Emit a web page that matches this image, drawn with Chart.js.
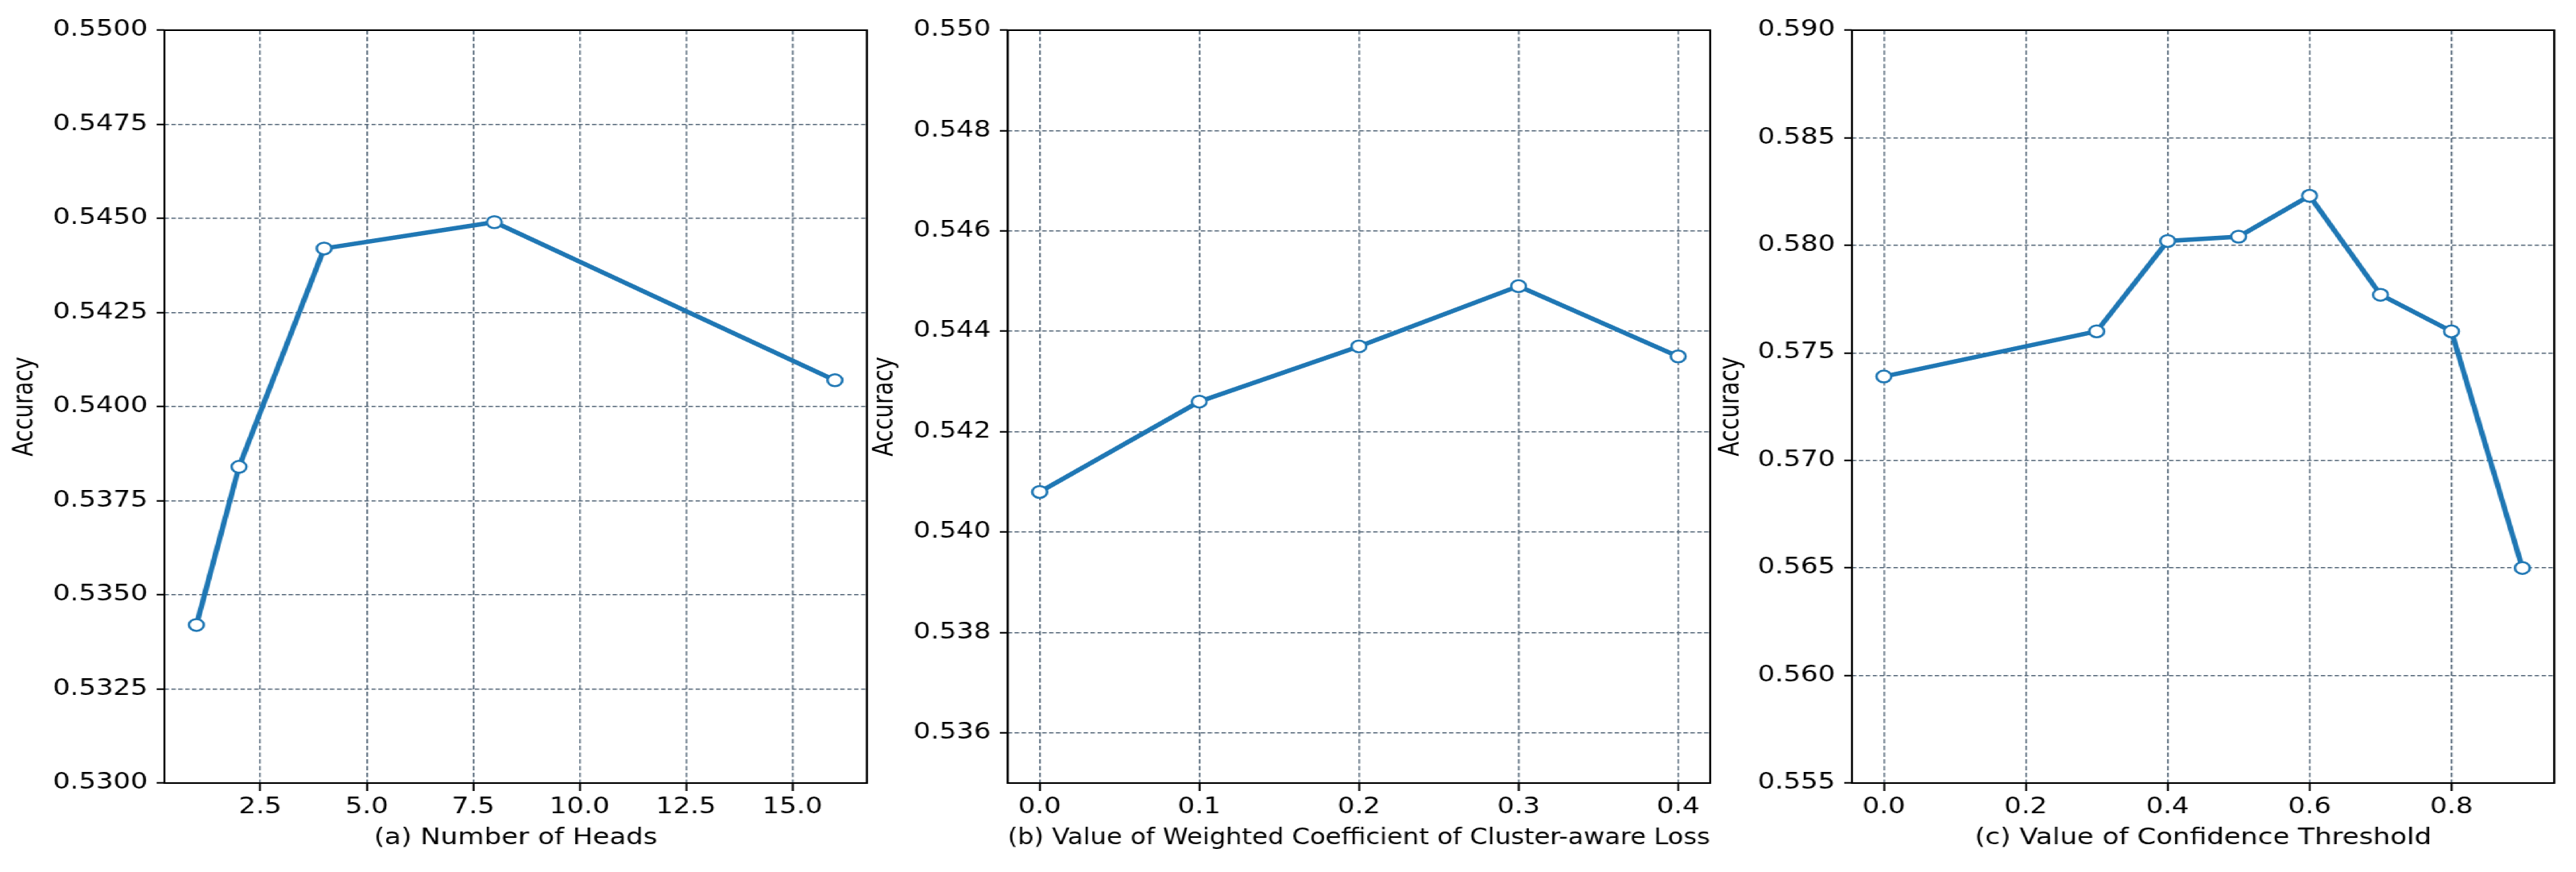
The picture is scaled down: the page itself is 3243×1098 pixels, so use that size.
<!DOCTYPE html>
<html>
<head>
<meta charset="utf-8">
<script src="https://cdn.jsdelivr.net/npm/chart.js@4.4.1/dist/chart.umd.min.js"></script>
<style>
  html, body { margin: 0; padding: 0; background: #fff; }
  /* the reference is stretched sideways, so draw narrow and widen */
  #wrap { position: absolute; left: 0; top: 0; width: 2615px; height: 1098px; transform: scaleX(1.24015); transform-origin: 0 0; }
  canvas { position: absolute; top: 0; }
</style>
</head>
<body>
<div id="wrap">
  <canvas id="graficoHeads" width="890" height="1098" style="left:0px"></canvas>
  <canvas id="graficoPeso" width="890" height="1098" style="left:856px"></canvas>
  <canvas id="graficoLimiar" width="890" height="1098" style="left:1713px"></canvas>
</div>
<script>
var headsX = [1, 2, 4, 8, 16]
var headsAcc = [0.5342, 0.5384, 0.5442, 0.5449, 0.5407]
var headsXTicks = [2.5, 5, 7.5, 10, 12.5, 15]
var headsYTicks = [0.53, 0.5325, 0.535, 0.5375, 0.54, 0.5425, 0.545, 0.5475, 0.55]

var pesoX = [0, 0.1, 0.2, 0.3, 0.4]
var pesoAcc = [0.5408, 0.5426, 0.5437, 0.5449, 0.5435]
var pesoXTicks = [0, 0.1, 0.2, 0.3, 0.4]
var pesoYTicks = [0.536, 0.538, 0.540, 0.542, 0.544, 0.546, 0.548, 0.550]

var limiarX = [0, 0.3, 0.4, 0.5, 0.6, 0.7, 0.8, 0.9]
var limiarAcc = [0.5739, 0.5760, 0.5802, 0.5804, 0.5823, 0.5777, 0.5760, 0.5650]
var limiarXTicks = [0, 0.2, 0.4, 0.6, 0.8]
var limiarYTicks = [0.555, 0.560, 0.565, 0.570, 0.575, 0.580, 0.585, 0.590]

var fonte = { family: 'DejaVu Sans', size: 27.5, lineHeight: 1 }
var corGrade = '#56687a'

// box around the plot area (matplotlib spines)
var moldura = {
    id: 'moldura',
    afterDraw: function (chart) {
        var a = chart.chartArea
        var ctx = chart.ctx
        ctx.save()
        ctx.strokeStyle = '#000'
        ctx.lineWidth = 2
        ctx.strokeRect(a.left, a.top, a.right - a.left, a.bottom - a.top)
        ctx.restore()
    }
}

GraficoDeLinha('graficoHeads', headsX, headsAcc, headsXTicks, headsYTicks, [0.25, 16.75], [0.53, 0.55], 4, '(a) Number of Heads', 12)
GraficoDeLinha('graficoPeso', pesoX, pesoAcc, pesoXTicks, pesoYTicks, [-0.02, 0.42], [0.535, 0.55], 3, '(b) Value of Weighted Coefficient of Cluster-aware Loss', 29)
GraficoDeLinha('graficoLimiar', limiarX, limiarAcc, limiarXTicks, limiarYTicks, [-0.045, 0.945], [0.555, 0.59], 3, '(c) Value of Confidence Threshold', 31)

function GraficoDeLinha(id, xs, ys, xTicks, yTicks, limX, limY, casasY, tituloX, padTituloY) {

    var pontos = xs.map(function (x, i) { return { x: x, y: ys[i] } })

    var ctx = document.getElementById(id).getContext('2d');
    var grafico = new Chart(ctx, {
        type: 'line',
        data: {
            datasets: [{
                data: pontos,
                borderColor: '#1f77b4',
                borderWidth: 5.5,
                pointRadius: 7.5,
                pointBorderWidth: 2.5,
                pointBackgroundColor: '#ffffff',
                pointBorderColor: '#1f77b4',
                tension: 0
            }]
        },
        options: {
            responsive: false,
            animation: false,
            devicePixelRatio: 1,
            layout: { padding: { top: 38, right: 9, bottom: 28, left: 0 } },
            plugins: { legend: { display: false }, tooltip: { enabled: false } },
            scales: {
                x: {
                    type: 'linear',
                    min: limX[0],
                    max: limX[1],
                    afterBuildTicks: function (scale) { scale.ticks = xTicks.map(function (v) { return { value: v } }) },
                    afterFit: function (scale) { scale.height = 84 },
                    border: { display: false, dash: [5.5, 3] },
                    grid: { color: corGrade, lineWidth: 1.5, tickLength: 10, tickColor: '#000', tickWidth: 2, tickBorderDash: [] },
                    ticks: { color: '#000', font: fonte, padding: 7, maxRotation: 0, callback: function (v) { return v.toFixed(1) } },
                    title: { display: true, text: tituloX, color: '#000', font: fonte, padding: 0 }
                },
                y: {
                    min: limY[0],
                    max: limY[1],
                    afterBuildTicks: function (scale) { scale.ticks = yTicks.map(function (v) { return { value: v } }) },
                    afterFit: function (scale) { scale.width = 167 },
                    border: { display: false, dash: [4.5, 2.5] },
                    grid: { color: corGrade, lineWidth: 1.5, tickLength: 8, tickColor: '#000', tickWidth: 2, tickBorderDash: [] },
                    ticks: { color: '#000', font: fonte, padding: 9, callback: function (v) { return v.toFixed(casasY) } },
                    title: { display: true, text: 'Accuracy', color: '#000', font: fonte, padding: { top: padTituloY, bottom: 0 } }
                }
            }
        },
        plugins: [moldura]
    });
}
</script>
</body>
</html>
